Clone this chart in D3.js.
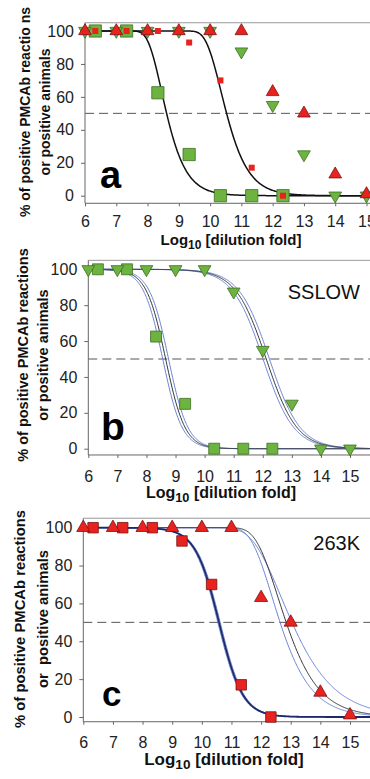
<!DOCTYPE html>
<html>
<head>
<meta charset="utf-8">
<script src="https://cdn.jsdelivr.net/npm/d3@7"></script>
<style>
  html, body { margin: 0; padding: 0; background: #fff; }
  svg { display: block; font-family: "Liberation Sans", Arial, sans-serif; }
</style>
</head>
<body>
<svg id="chart" width="370" height="779"></svg>
<script>
// ---------- data ----------
const xTicks = [6, 7, 8, 9, 10, 11, 12, 13, 14, 15];
const yTicks = [0, 20, 40, 60, 80, 100];

const pmcaDilutions   = [6.33, 7.33, 8.33, 9.33, 10.33, 11.33, 12.33];
const animalDilutions = [6, 7, 8, 9, 10, 11, 12, 13, 14, 15];

const sslowPmca    = [100, 100, 62.5, 25, 0, 0, 0];
const sslowAnimals = [100, 100, 100, 100, 100, 87.5, 55, 25, 0, 0];
const k263Pmca     = [100, 100, 100, 93, 70, 17, 0];
const k263Animals  = [100, 100, 100, 100, 100, 100, 63, 50, 13, 1];

// fitted curves: [model, midpoint/x0, slope]
const fitA_sslowPmca  = ["hit", 8.45, 1.0];
const fitA_k263Pmca   = ["hit", 10.35, 0.9];
const fitB_pmca       = [["log", 8.66, 3.0], ["log", 8.56, 3.0], ["log", 8.76, 3.0]];
const fitB_animals    = [["log", 12.12, 1.9], ["log", 12.01, 1.9], ["log", 12.23, 1.9]];
const fitC_pmca       = [["log", 10.58, 2.5], ["log", 10.54, 2.5], ["log", 10.62, 2.5]];
const fitC_animals    = [["hit", 12.57, 0.575], ["hit", 12.375, 0.6], ["hit", 12.68, 0.44]];

const yTitle1 = ["% of positive PMCAb reactio ns", "% of positive PMCAb reactions", "% of positive PMCAb reactions"];
const yTitle2 = ["or positive animals", "or positive animals", "or  positive animals"];
const panelLetters = ["a", "b", "c"];
const panelNames = ["", "SSLOW", "263K"];

// ---------- helpers ----------
function model(p, x) {
  if (p[0] === "hit") return 100 * (1 - Math.exp(-Math.pow(10, p[2] * (p[1] - x))));
  return 100 / (1 + Math.exp(p[2] * (x - p[1])));
}

const svg = d3.select("#chart");
const GREEN = "#6cb33f", GREEN_S = "#3f6e25";
const RED = "#e8221f", RED_S = "#7a1414";
const BLUE = "#6b82d4";

const layouts = [
  { x6: 85,   x15: 366.5, y0: 195.7, y100: 31,    yBot: -4.6, titleX1: 30, titleX2: 50, titleY: 112, titleFs: 14,
    letter: { x: 100, y: 188, fs: 38 }, xLabY: 227, axTitle: { x: 231, y: 245, fs: 15 } },
  { x6: 88.3, x15: 350,   y0: 448.7, y100: 269.3, yBot: -3.5, titleX1: 28, titleX2: 48, titleY: 355, titleFs: 14.5,
    letter: { x: 101, y: 440, fs: 39 }, xLabY: 482, axTitle: { x: 221, y: 498, fs: 16 },
    name: { x: 360, y: 299 } },
  { x6: 83.3, x15: 350,   y0: 717,   y100: 527.7, yBot: -2.5, titleX1: 25, titleX2: 48, titleY: 619, titleFs: 14.8,
    letter: { x: 102, y: 706, fs: 35 }, xLabY: 748, axTitle: { x: 224, y: 765, fs: 17 },
    name: { x: 360, y: 550 } }
];

function drawPanel(i, drawContent) {
  const L = layouts[i];
  const x = d3.scaleLinear().domain([6, 15]).range([L.x6, L.x15]);
  const y = d3.scaleLinear().domain([0, 100]).range([L.y0, L.y100]);
  const xMax = x.invert(370);
  const g = svg.append("g");

  // top border
  g.append("line").attr("x1", x(6)).attr("x2", 370).attr("y1", y(105)).attr("y2", y(105))
    .attr("stroke", "#9a9a9a").attr("stroke-width", 1);

  // dashed 50% line
  g.append("line").attr("x1", x(6)).attr("x2", 370).attr("y1", y(50)).attr("y2", y(50))
    .attr("stroke", "#555").attr("stroke-width", 1).attr("stroke-dasharray", "9,5");

  // axes
  const yAx = g.append("g").attr("transform", `translate(${x(6)},0)`)
    .call(d3.axisLeft(y).tickValues(yTicks).tickSize(4).tickPadding(7).tickFormat(d3.format("d")));
  yAx.select(".domain").remove();
  const xAx = g.append("g").attr("transform", `translate(0,${y(L.yBot)})`)
    .call(d3.axisBottom(x).tickValues(xTicks).tickSize(3).tickPadding(9).tickFormat(d3.format("d")));
  xAx.select(".domain").remove();
  [yAx, xAx].forEach(a => {
    a.selectAll(".tick line").attr("stroke", "#666");
    a.selectAll(".tick text").attr("fill", "#222").style("font-size", "16px")
      .style("font-family", "'Liberation Sans', Arial, sans-serif");
  });
  xAx.selectAll(".tick text").attr("dy", null).attr("y", L.xLabY - y(L.yBot));
  g.append("line").attr("x1", x(6)).attr("x2", x(6)).attr("y1", y(105)).attr("y2", y(L.yBot))
    .attr("stroke", "#666").attr("stroke-width", 1);
  g.append("line").attr("x1", x(6)).attr("x2", 370).attr("y1", y(L.yBot)).attr("y2", y(L.yBot))
    .attr("stroke", "#666").attr("stroke-width", 1);

  // axis title
  const t = g.append("text").attr("x", L.axTitle.x).attr("y", L.axTitle.y).attr("text-anchor", "middle")
    .attr("font-weight", "bold").attr("font-size", L.axTitle.fs).attr("fill", "#111");
  t.append("tspan").text("Log");
  t.append("tspan").text("10").attr("font-size", L.axTitle.fs * 0.8).attr("dy", 4);
  t.append("tspan").text(" [dilution fold]").attr("dy", -4);

  // y title
  [[yTitle1[i], L.titleX1], [yTitle2[i], L.titleX2]].forEach(([txt, tx]) => {
    g.append("text").attr("transform", `translate(${tx},${L.titleY}) rotate(-90)`)
      .attr("text-anchor", "middle").attr("font-weight", "bold").attr("font-size", L.titleFs)
      .attr("fill", "#111").style("white-space", "pre").text(txt);
  });

  // panel letter
  g.append("text").attr("x", L.letter.x).attr("y", L.letter.y).attr("font-weight", "bold")
    .attr("font-size", L.letter.fs).attr("fill", "#000").text(panelLetters[i]);
  if (L.name) {
    g.append("text").attr("x", L.name.x).attr("y", L.name.y).attr("text-anchor", "end")
      .attr("font-size", 20).attr("fill", "#111").text(panelNames[i]);
  }

  const line = p => d3.line().x(d => x(d)).y(d => y(model(p, d)))(d3.range(6, xMax + 0.01, 0.02));
  const curve = (p, color, w) => g.append("path").attr("d", line(p)).attr("fill", "none")
    .attr("stroke", color).attr("stroke-width", w);

  const sym = (xs, ys, type, size, fill, stroke, rot) => {
    g.append("g").selectAll("path").data(xs).join("path")
      .attr("d", d3.symbol().type(type).size(size)())
      .attr("transform", (d, j) => `translate(${x(d)},${y(ys[j])})` + (rot ? " rotate(180)" : ""))
      .attr("fill", fill).attr("stroke", stroke || "none").attr("stroke-width", stroke ? 0.8 : 0);
  };
  drawContent({ curve, sym });
}

// Panel a
drawPanel(0, ({ curve, sym }) => {
  curve(fitA_sslowPmca, "#111", 1.5);
  curve(fitA_k263Pmca, "#111", 1.5);
  sym(pmcaDilutions, sslowPmca, d3.symbolSquare, 150, GREEN, GREEN_S);
  sym(animalDilutions, sslowAnimals, d3.symbolTriangle, 70, GREEN, GREEN_S, true);
  sym(animalDilutions, k263Animals, d3.symbolTriangle, 70, RED, RED_S);
  sym(pmcaDilutions, k263Pmca, d3.symbolSquare, 36, RED, null);
});

// Panel b
drawPanel(1, ({ curve, sym }) => {
  [fitB_pmca, fitB_animals].forEach(f => {
    curve(f[1], BLUE, 1);
    curve(f[2], BLUE, 1);
    curve(f[0], "#333", 1);
  });
  sym(pmcaDilutions, sslowPmca, d3.symbolSquare, 120, GREEN, GREEN_S);
  sym(animalDilutions, sslowAnimals, d3.symbolTriangle, 70, GREEN, GREEN_S, true);
});

// Panel c
drawPanel(2, ({ curve, sym }) => {
  curve(fitC_animals[1], BLUE, 1);
  curve(fitC_animals[2], BLUE, 1);
  curve(fitC_animals[0], "#333", 1);
  curve(fitC_pmca[1], BLUE, 1);
  curve(fitC_pmca[2], BLUE, 1);
  curve(fitC_pmca[0], "#1c2a6a", 1.8);
  sym(pmcaDilutions, k263Pmca, d3.symbolSquare, 110, RED, RED_S);
  sym(animalDilutions, k263Animals, d3.symbolTriangle, 75, RED, RED_S);
});
</script>
</body>
</html>
